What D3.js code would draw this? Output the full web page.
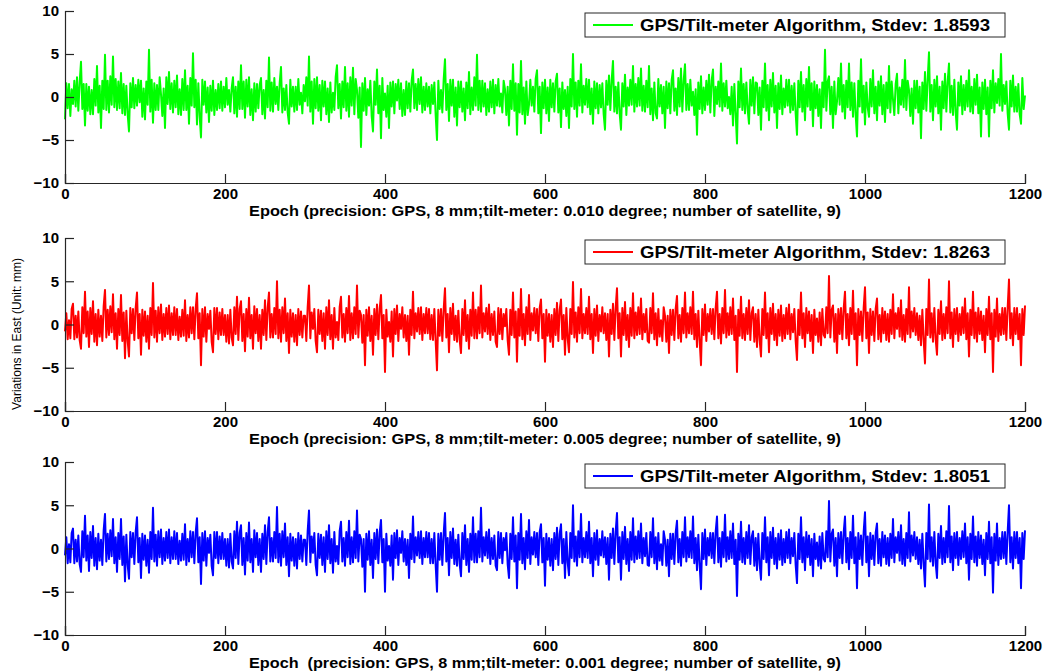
<!DOCTYPE html>
<html>
<head>
<meta charset="utf-8">
<script src="https://cdn.jsdelivr.net/npm/d3@7"></script>
<style>
  html, body { margin: 0; padding: 0; background: #fff; }
  svg { display: block; font-family: "Liberation Sans", Arial, sans-serif; }
</style>
</head>
<body>
<svg id="chart" width="1052" height="672"></svg>
<script>
// Epoch range covered by each series (samples are evenly spread over it)
const epochMax = 1200;

const xTicks = [0, 200, 400, 600, 800, 1000, 1200];
const yTicks = [-10, -5, 0, 5, 10];

const legendLabels = [
  "GPS/Tilt-meter Algorithm, Stdev: 1.8593",
  "GPS/Tilt-meter Algorithm, Stdev: 1.8263",
  "GPS/Tilt-meter Algorithm, Stdev: 1.8051"
];

const xLabels = [
  "Epoch (precision: GPS, 8 mm;tilt-meter: 0.010 degree; number of satellite, 9)",
  "Epoch (precision: GPS, 8 mm;tilt-meter: 0.005 degree; number of satellite, 9)",
  "Epoch  (precision: GPS, 8 mm;tilt-meter: 0.001 degree; number of satellite, 9)"
];

const yLabel = "Variations in East (Unit: mm)";

// East variations (mm), tilt-meter precision 0.010 degree
const eastTilt010 = [
  -2.6,1.6,-1.3, 1.5,-2.2,0.9, -0.8,1.9,-1.1, 2.3,-1.6,1.7, 4.1,-1.4,1.5, -3.3,1.5,-1.6, 1.2,-2.0,0.8, -2.0,2.1,-1.0, 3.6,-1.8,1.3, -3.6,1.9,-1.4,
  4.9,-1.5,1.9, -1.8,2.4,-0.9, 4.7,-1.2,2.1, -1.5,1.8,-1.3, 2.8,-1.9,1.5, -2.1,1.3,-2.0, -4.0,1.6,-1.2, 2.2,-1.3,1.4, -1.0,2.0,-0.6, 1.9,-2.3,1.0,
  -2.6,1.8,-0.9, 5.5,-1.7,2.0, -3.0,1.6,-1.5, 1.4,-1.5,2.3, 0.3,-2.2,1.0, -3.6,2.3,-0.8, 2.9,-1.4,1.6, -1.8,1.9,-1.2, 2.5,-2.0,0.9, -2.1,2.1,-1.5,
  3.1,-1.5,1.3, -3.1,2.2,-1.0, 5.1,-1.2,2.0, -3.2,1.6,-2.2, -4.7,2.0,-0.9, 1.8,-1.8,1.1, -2.9,1.3,-1.6, 1.9,-2.1,0.8, -1.5,1.5,-1.3, 1.8,-1.6,1.2,
  -1.2,2.2,-0.9, 0.8,-1.7,1.0, 2.3,-1.9,1.2, -2.3,1.8,-1.4, 3.7,-1.4,1.8, -2.4,2.0,-1.1, 2.3,-2.1,0.9, -2.7,1.6,-1.7, 1.5,-1.3,1.4, 2.2,-2.0,0.8,
  -2.5,1.9,-1.2, 4.6,-1.6,1.7, -1.7,2.2,-0.8, 1.2,-1.5,1.6, 3.5,-1.8,1.0, -1.5,1.4,-1.8, -3.1,2.0,-1.1, 1.2,-1.7,1.2, -1.5,2.1,-0.9, 0.5,-1.9,1.4,
  -0.5,2.3,-1.0, 4.7,-1.7,1.8, -3.1,2.1,-1.3, 2.3,-1.6,1.4, -2.7,1.9,-1.1, 1.8,-2.0,1.0, -2.9,1.7,-1.8, 0.5,-1.5,2.3, 3.7,-1.3,1.5, -2.5,1.8,-1.2,
  3.5,-1.6,1.6, -2.3,2.3,-1.0, 3.4,-2.0,2.1, 0.8,-2.4,1.1, -5.8,1.6,-1.6, 2.2,-2.1,0.9, -1.0,1.9,-2.2, -4.0,1.8,-0.9, 3.2,-1.9,1.3, -4.8,2.2,-1.5,
  0.4,-2.3,1.3, -3.6,1.7,-1.1, 1.8,-1.9,1.5, -0.4,2.0,-1.4, 1.6,-2.2,0.8, -2.1,1.8,-1.3, 1.6,-1.7,1.9, 3.2,-1.3,1.5, -1.5,2.1,-0.8, 2.3,-1.8,1.2,
  -1.5,1.6,-1.1, 1.2,-1.9,1.4, -0.8,1.7,-2.1, -5.0,1.9,-1.4, 0.8,-1.8,2.0, 4.4,-1.5,1.5, -2.8,2.0,-1.0, 2.0,-2.3,1.1, -3.3,1.8,-1.2, 1.8,-1.7,1.0,
  -2.7,1.7,-1.3, 2.9,-2.0,1.1, -1.5,2.3,-1.0, 4.9,-1.5,1.9, -1.7,1.9,-1.1, 1.6,-2.1,0.9, -1.7,1.8,-1.2, 2.0,-1.9,1.4, -1.0,2.1,-1.1, 0.4,-1.8,1.9,
  0.9,-2.1,1.2, -3.3,1.9,-1.4, 3.8,-1.6,1.6, -4.4,1.5,-1.8, 4.2,-2.0,1.1, -3.1,1.8,-2.1, -0.9,2.0,-1.0, 1.2,-1.7,2.1, 3.1,-1.9,1.2, -4.2,1.7,-1.3,
  2.0,-1.9,1.1, -2.8,2.0,-1.2, 1.6,-1.7,1.8, 2.7,-1.8,1.0, -3.5,1.7,-1.4, 0.8,-2.2,1.2, -3.6,2.1,-1.1, 5.0,-1.4,1.7, -2.3,1.9,-1.0, 3.8,-1.8,1.3,
  -0.9,2.1,-1.2, 2.0,-2.0,1.0, -3.1,1.8,-1.3, 1.6,-1.9,1.4, -1.2,1.6,-2.0, -3.8,1.9,-0.9, 2.5,-1.5,1.9, 4.2,-1.7,1.2, -1.9,1.7,-1.9, -3.8,1.6,-1.1,
  2.6,-2.1,1.1, -1.0,2.0,-0.9, 3.6,-1.7,1.5, -1.1,2.2,-1.0, 3.3,-1.6,1.3, -1.7,1.9,-1.2, 3.6,-2.0,1.0, -2.7,1.7,-1.9, -2.5,2.1,-1.1, 1.4,-1.9,1.2,
  -3.6,1.8,-1.3, 1.6,-1.9,2.0, 3.1,-1.6,1.0, -2.1,2.2,-1.1, 3.3,-1.7,1.9, 3.8,-1.5,1.5, -1.5,2.0,-1.0, 0.6,-2.1,0.9, -4.4,1.7,-1.4, 2.4,-1.9,1.1,
  -1.5,1.9,-0.9, 2.6,-1.8,1.9, 3.2,-2.2,1.2, -0.8,1.8,-1.1, 3.9,-1.6,1.6, -1.1,1.9,-1.3, 0.0,-2.0,1.2, -3.3,1.5,-2.0, -5.4,1.8,-1.2, 3.3,-1.5,1.5,
  -1.9,1.7,-1.4, -3.1,2.0,-1.0, 2.3,-1.9,1.7, 1.6,-2.1,1.1, -3.8,1.9,-1.2, 3.9,-1.6,1.4, -2.7,2.0,-1.1, 2.8,-1.8,1.3, -3.6,1.6,-1.4, 2.5,-2.0,1.0,
  -1.2,2.0,-1.0, 2.0,-1.8,1.3, -1.5,1.6,-1.9, -4.4,1.9,-1.2, 2.9,-1.7,1.4, -2.7,2.1,-1.1, 3.5,-1.5,1.6, -3.4,1.8,-1.3, 1.4,-2.2,0.9, -3.6,1.7,-1.2,
  5.5,-1.6,1.8, 2.4,-2.0,1.2, -3.6,1.8,-2.0, -0.5,2.2,-0.9, 3.9,-1.7,1.4, -2.5,1.9,-1.2, 3.9,-1.5,1.7, -2.3,1.6,-2.1, -4.6,1.9,-1.1, 4.4,-1.8,1.3,
  -3.2,1.7,-1.2, -2.3,2.1,-1.1, 3.1,-1.9,1.2, -2.7,1.8,-1.0, 2.4,-2.0,1.4, -2.9,1.7,-1.3, 3.6,-1.8,1.8, -0.3,-2.1,1.5, 2.7,-1.9,1.1, -0.9,2.0,-1.2,
  4.3,-1.5,1.9, 0.8,-2.2,1.0, -3.1,1.9,-1.3, 1.9,-1.8,1.2, -4.8,1.7,-1.4, 2.9,-1.6,2.0, 5.2,-1.7,1.4, -2.7,2.0,-1.1, 2.4,-1.9,1.2, -3.8,1.8,-1.3,
  2.7,-1.7,1.8, 3.9,-1.8,1.3, -2.1,2.0,-1.8, -3.8,1.7,-1.0, 2.4,-2.0,1.4, -1.5,1.9,-1.1, 3.1,-1.7,1.2, -1.9,2.1,-0.9, 2.6,-1.9,1.1, -4.6,1.7,-1.4,
  2.0,-2.0,1.1, -4.6,1.9,-1.3, 3.1,-1.8,1.6, -0.7,2.1,-1.0, 5.0,-1.6,1.4, -0.8,1.8,-1.9, -3.8,1.9,-1.1, 2.5,-1.7,1.2, -1.7,1.5,-2.0, -3.1,2.2,-1.4,
  0.2
];

// East variations (mm), tilt-meter precision 0.005 degree
const eastTilt005 = [
  -0.8,1.3,-1.7, 0.5,-1.6,1.8, 2.4,-1.7,1.0, -1.5,1.5,-1.8, -2.8,2.0,-1.0, 3.8,-1.4,1.5, -2.6,1.9,-1.1, 2.7,-2.0,1.2, -2.4,1.7,-1.4, 1.0,-1.9,2.1,
  4.0,-1.5,1.7, -1.2,2.1,-0.9, 3.5,-1.7,1.3, -2.8,1.8,-1.2, 3.4,-1.9,1.4, -3.9,1.6,-1.9, -3.7,1.9,-1.0, 1.8,-1.8,1.9, 3.7,-1.6,1.2, -3.5,1.7,-1.3,
  1.5,-2.0,1.0, -2.8,1.9,-1.2, 4.8,-1.5,1.6, -2.0,2.0,-1.0, 2.3,-1.8,1.2, -1.4,1.9,-1.1, 2.2,-1.7,1.3, -1.2,2.0,-1.2, 1.8,-1.8,0.9, -1.4,1.7,-1.3,
  2.8,-1.9,1.1, -1.5,2.0,-1.0, 2.0,-1.7,1.8, 3.6,-1.6,1.3, -4.7,1.8,-1.4, 2.0,-2.0,1.2, -0.5,1.6,-2.0, -3.2,1.9,-1.1, 1.9,-1.7,1.4, -1.2,1.8,-1.2,
  1.1,-2.0,1.1, -2.2,1.7,-1.5, -2.4,2.0,-1.1, 3.2,-1.8,1.8, 2.7,-1.9,1.2, -3.1,1.8,-1.4, 3.1,-1.6,1.1, -2.8,2.1,-1.0, 1.8,-1.9,1.1, -2.8,1.7,-1.2,
  2.8,-1.8,1.9, 3.7,-1.5,1.2, -1.5,1.9,-1.1, 5.0,-1.6,1.7, -2.0,2.0,-1.0, 3.0,-1.9,1.3, -3.3,1.7,-1.4, 1.3,-2.0,1.1, -2.4,1.8,-1.2, 1.5,-1.5,1.0,
  1.0,-1.9,2.0, 4.5,-1.6,1.4, -0.5,1.8,-1.9, -3.2,1.7,-1.1, 1.6,-1.9,1.3, -2.8,2.0,-1.2, 2.8,-1.7,1.1, -2.8,1.9,-1.5, 0.3,-1.8,2.0, 3.2,-1.5,1.2,
  -2.0,1.9,-1.0, 3.3,-1.8,1.3, -1.6,2.0,-1.1, 4.5,-1.5,1.6, 1.1,-2.1,1.1, -4.7,1.7,-1.3, 2.0,-1.9,1.0, -3.5,1.8,-1.2, 2.3,-1.7,1.8, 3.4,-1.6,1.1,
  -5.5,1.7,-1.4, 0.3,-2.0,1.5, -3.7,1.8,-1.1, 2.2,-1.9,1.2, -0.5,2.0,-1.5, 1.1,-1.9,1.0, -3.5,1.7,-1.2, 3.8,-1.6,1.3, -0.8,1.9,-1.1, 2.0,-1.8,1.2,
  -1.0,1.9,-1.0, 1.8,-1.7,1.1, -1.8,1.8,-1.9, -5.3,1.7,-1.3, 1.8,-1.9,1.7, 4.2,-1.5,1.2, -3.2,1.9,-1.1, 2.4,-1.8,1.0, -2.0,1.6,-1.8, -3.3,1.8,-1.2,
  2.8,-1.9,1.1, -2.8,1.7,-1.3, 3.7,-1.6,1.7, -1.6,2.0,-1.0, 4.5,-1.5,1.3, -0.8,1.9,-1.1, 2.3,-1.8,1.2, -1.2,1.5,-2.0, -2.6,1.9,-1.1, 1.8,-1.7,1.2,
  -0.2,1.8,-1.8, -3.5,1.7,-1.2, 3.7,-1.5,1.5, -4.3,1.8,-1.3, 4.1,-1.7,1.2, -2.4,2.0,-1.1, 3.4,-1.8,1.3, -0.7,1.9,-1.0, 1.8,-1.9,1.9, 2.9,-1.6,1.2,
  -4.3,1.7,-1.3, 1.2,-2.0,1.1, -2.6,1.8,-1.2, 2.5,-1.9,1.7, 2.9,-1.7,1.1, -3.5,1.9,-1.6, -3.2,1.8,-1.1, 4.9,-1.5,1.4, -2.0,2.0,-1.0, 4.1,-1.6,1.2,
  -1.0,1.9,-1.1, 3.2,-1.7,1.2, -3.3,1.8,-1.3, 2.2,-1.9,1.1, -0.8,2.0,-1.0, 1.3,-1.8,1.2, -3.7,1.7,-1.1, 2.4,-1.8,1.9, 4.2,-1.6,1.3, -3.7,1.9,-1.2,
  2.6,-1.8,1.1, -2.6,1.9,-1.3, 3.6,-1.6,1.4, -1.2,2.0,-1.1, 3.0,-1.7,1.2, -0.9,1.8,-1.9, -2.1,1.9,-1.0, 3.6,-1.7,1.3, -2.4,1.8,-1.4, 0.5,-1.9,2.0,
  1.0,-2.0,1.0, -3.3,1.7,-1.2, 1.7,-1.8,1.8, 3.3,-1.6,1.1, -2.0,1.9,-1.0, 3.7,-1.5,1.3, -1.0,2.0,-1.1, 3.8,-1.7,1.2, -2.6,1.6,-1.9, -4.7,1.8,-1.2,
  2.3,-1.9,1.2, -0.8,1.8,-1.1, 1.8,-1.7,1.9, 3.8,-1.6,1.2, -2.2,1.9,-1.0, 4.0,-1.5,1.3, -1.2,2.0,-1.1, 3.0,-1.8,1.0, -5.5,1.7,-1.3, 3.2,-1.6,1.2,
  -1.8,1.9,-1.1, 2.8,-1.8,1.3, 2.0,-2.0,1.2, -2.6,1.7,-1.8, -3.7,1.8,-1.2, 3.7,-1.6,1.3, -3.2,1.9,-1.1, 2.4,-1.8,1.2, -2.4,1.7,-1.3, 2.2,-1.9,1.1,
  -1.6,1.9,-1.1, 2.3,-1.7,1.2, -0.9,1.8,-1.9, -4.1,1.7,-1.2, 3.7,-1.6,1.3, -2.6,1.9,-1.0, 1.5,-1.9,1.1, -3.3,1.7,-1.2, 0.7,-2.0,1.4, -2.4,1.8,-1.2,
  -1.5,2.0,-1.0, 5.6,-1.5,1.7, 2.2,-2.0,1.2, -3.3,1.8,-1.1, 1.9,-1.7,1.8, 3.8,-1.6,1.2, -2.4,1.9,-1.1, 3.9,-1.7,1.3, -4.7,1.8,-1.2, 1.5,-1.9,1.9,
  4.3,-1.6,1.4, -3.3,1.8,-1.2, 1.5,-1.9,1.8, 3.0,-1.7,1.1, -2.0,1.9,-1.0, 1.5,-1.8,1.2, -2.0,1.7,-1.1, 3.5,-1.6,1.3, -0.5,1.9,-1.4, 2.8,-1.8,1.1,
  -2.0,1.8,-1.1, 4.3,-1.5,1.5, -0.8,1.9,-1.2, 1.3,-1.8,1.0, -2.4,1.7,-1.8, -4.5,1.8,-1.2, 5.2,-1.5,1.3, -2.0,1.9,-1.7, -3.5,1.7,-1.1, 2.7,-1.8,1.2,
  -1.6,2.0,-1.0, 5.0,-1.6,1.4, -2.6,1.8,-1.1, 1.9,-1.9,1.2, -1.2,2.0,-1.0, 3.0,-1.7,1.3, -3.7,1.7,-1.2, 3.8,-1.6,1.4, -2.0,1.9,-1.1, 1.5,-1.8,1.0,
  -3.2,1.8,-1.2, 3.2,-1.7,1.3, -5.5,1.7,-1.4, 3.0,-1.9,1.2, -1.2,1.9,-1.1, 1.9,-1.8,1.9, 5.2,-1.6,1.3, -2.4,1.9,-1.1, 1.9,-1.7,1.2, -4.7,1.8,-1.2,
  2.2
];

// East variations (mm), tilt-meter precision 0.001 degree
const eastTilt001 = [
  -0.8,1.3,-1.7, 0.5,-1.6,1.8, 2.3,-1.7,1.0, -1.5,1.5,-1.8, -2.7,2.0,-1.0, 3.8,-1.4,1.5, -2.6,1.9,-1.1, 2.6,-2.0,1.2, -2.4,1.7,-1.4, 1.0,-1.9,2.1,
  4.0,-1.5,1.7, -1.2,2.1,-0.9, 3.4,-1.7,1.3, -2.7,1.8,-1.2, 3.4,-1.9,1.4, -3.8,1.6,-1.9, -3.5,1.9,-1.0, 1.8,-1.8,1.9, 3.6,-1.6,1.2, -3.4,1.7,-1.3,
  1.5,-2.0,1.0, -2.8,1.9,-1.2, 4.7,-1.5,1.6, -2.0,2.0,-1.0, 2.2,-1.8,1.2, -1.4,1.9,-1.1, 2.2,-1.7,1.3, -1.2,2.0,-1.2, 1.8,-1.8,0.9, -1.4,1.7,-1.3,
  2.8,-1.9,1.1, -1.5,2.0,-1.0, 1.9,-1.7,1.8, 3.5,-1.6,1.3, -4.1,1.8,-1.4, 2.0,-2.0,1.2, -0.5,1.6,-2.0, -3.1,1.9,-1.1, 1.9,-1.7,1.4, -1.2,1.8,-1.2,
  1.1,-2.0,1.1, -2.2,1.7,-1.5, -2.3,2.0,-1.1, 3.1,-1.8,1.8, 2.7,-1.9,1.2, -3.0,1.8,-1.4, 3.0,-1.6,1.1, -2.7,2.1,-1.0, 1.8,-1.9,1.1, -2.7,1.7,-1.2,
  2.7,-1.8,1.9, 3.6,-1.5,1.2, -1.5,1.9,-1.1, 4.8,-1.6,1.7, -2.0,2.0,-1.0, 2.9,-1.9,1.3, -3.2,1.7,-1.4, 1.3,-2.0,1.1, -2.3,1.8,-1.2, 1.5,-1.5,1.0,
  1.0,-1.9,2.0, 4.4,-1.6,1.4, -0.5,1.8,-1.9, -3.1,1.7,-1.1, 1.6,-1.9,1.3, -2.7,2.0,-1.2, 2.7,-1.7,1.1, -2.8,1.9,-1.5, 0.3,-1.8,2.0, 3.1,-1.5,1.2,
  -2.0,1.9,-1.0, 3.2,-1.8,1.3, -1.6,2.0,-1.1, 4.4,-1.5,1.6, 1.1,-2.1,1.1, -5.0,1.7,-1.3, 2.0,-1.9,1.0, -3.4,1.8,-1.2, 2.2,-1.7,1.8, 3.3,-1.6,1.1,
  -5.0,1.7,-1.4, 0.3,-2.0,1.5, -3.6,1.8,-1.1, 2.1,-1.9,1.2, -0.5,2.0,-1.5, 1.1,-1.9,1.0, -3.4,1.7,-1.2, 3.7,-1.6,1.3, -0.8,1.9,-1.1, 2.0,-1.8,1.2,
  -1.0,1.9,-1.0, 1.8,-1.7,1.1, -1.7,1.8,-1.9, -5.0,1.7,-1.3, 1.8,-1.9,1.7, 4.1,-1.5,1.2, -3.1,1.9,-1.1, 2.3,-1.8,1.0, -2.0,1.6,-1.8, -3.2,1.8,-1.2,
  2.7,-1.9,1.1, -2.7,1.7,-1.3, 3.6,-1.6,1.7, -1.6,2.0,-1.0, 4.7,-1.5,1.3, -0.8,1.9,-1.1, 2.2,-1.8,1.2, -1.2,1.5,-2.0, -2.5,1.9,-1.1, 1.8,-1.7,1.2,
  -0.2,1.8,-1.8, -3.4,1.7,-1.2, 3.6,-1.5,1.5, -4.6,1.8,-1.3, 4.0,-1.7,1.2, -2.4,2.0,-1.1, 3.3,-1.8,1.3, -0.7,1.9,-1.0, 1.8,-1.9,1.9, 2.8,-1.6,1.2,
  -4.3,1.7,-1.3, 1.2,-2.0,1.1, -2.5,1.8,-1.2, 2.4,-1.9,1.7, 2.8,-1.7,1.1, -3.4,1.9,-1.6, -3.1,1.8,-1.1, 5.0,-1.5,1.4, -2.0,2.0,-1.0, 4.0,-1.6,1.2,
  -1.0,1.9,-1.1, 3.1,-1.7,1.2, -3.2,1.8,-1.3, 2.1,-1.9,1.1, -0.8,2.0,-1.0, 1.3,-1.8,1.2, -3.6,1.7,-1.1, 2.3,-1.8,1.9, 4.1,-1.6,1.3, -3.6,1.9,-1.2,
  2.5,-1.8,1.1, -2.6,1.9,-1.3, 3.5,-1.6,1.4, -1.2,2.0,-1.1, 2.9,-1.7,1.2, -0.9,1.8,-1.9, -2.0,1.9,-1.0, 3.5,-1.7,1.3, -2.4,1.8,-1.4, 0.5,-1.9,2.0,
  1.0,-2.0,1.0, -3.2,1.7,-1.2, 1.7,-1.8,1.8, 3.2,-1.6,1.1, -2.0,1.9,-1.0, 3.6,-1.5,1.3, -1.0,2.0,-1.1, 3.7,-1.7,1.2, -2.5,1.6,-1.9, -4.7,1.8,-1.2,
  2.2,-1.9,1.2, -0.8,1.8,-1.1, 1.8,-1.7,1.9, 3.7,-1.6,1.2, -2.1,1.9,-1.0, 3.9,-1.5,1.3, -1.2,2.0,-1.1, 2.9,-1.8,1.0, -5.5,1.7,-1.3, 3.1,-1.6,1.2,
  -1.8,1.9,-1.1, 2.7,-1.8,1.3, 2.0,-2.0,1.2, -2.5,1.7,-1.8, -3.6,1.8,-1.2, 3.6,-1.6,1.3, -3.1,1.9,-1.1, 2.4,-1.8,1.2, -2.3,1.7,-1.3, 2.1,-1.9,1.1,
  -1.6,1.9,-1.1, 2.2,-1.7,1.2, -0.9,1.8,-1.9, -4.0,1.7,-1.2, 3.6,-1.6,1.3, -2.5,1.9,-1.0, 1.5,-1.9,1.1, -3.2,1.7,-1.2, 0.7,-2.0,1.4, -2.3,1.8,-1.2,
  -1.5,2.0,-1.0, 5.5,-1.5,1.7, 2.2,-2.0,1.2, -3.2,1.8,-1.1, 1.9,-1.7,1.8, 3.7,-1.6,1.2, -2.4,1.9,-1.1, 3.8,-1.7,1.3, -4.6,1.8,-1.2, 1.5,-1.9,1.9,
  4.2,-1.6,1.4, -3.2,1.8,-1.2, 1.5,-1.9,1.8, 2.9,-1.7,1.1, -2.0,1.9,-1.0, 1.5,-1.8,1.2, -2.0,1.7,-1.1, 3.4,-1.6,1.3, -0.5,1.9,-1.4, 2.7,-1.8,1.1,
  -2.0,1.8,-1.1, 4.2,-1.5,1.5, -0.8,1.9,-1.2, 1.3,-1.8,1.0, -2.3,1.7,-1.8, -4.4,1.8,-1.2, 5.1,-1.5,1.3, -2.0,1.9,-1.7, -3.4,1.7,-1.1, 2.6,-1.8,1.2,
  -1.6,2.0,-1.0, 4.9,-1.6,1.4, -2.5,1.8,-1.1, 1.9,-1.9,1.2, -1.2,2.0,-1.0, 2.9,-1.7,1.3, -3.6,1.7,-1.2, 3.7,-1.6,1.4, -2.0,1.9,-1.1, 1.5,-1.8,1.0,
  -3.1,1.8,-1.2, 3.1,-1.7,1.3, -5.1,1.7,-1.4, 2.9,-1.9,1.2, -1.2,1.9,-1.1, 1.9,-1.8,1.9, 5.0,-1.6,1.3, -2.3,1.9,-1.1, 1.9,-1.7,1.2, -4.6,1.8,-1.2,
  2.1
];

const seriesList = [eastTilt010, eastTilt005, eastTilt001];
const seriesColors = ["#00ff00", "#ff0000", "#0000ff"];

// ---- layout ----
const svg = d3.select("#chart");
const plotLeft = 65, plotRight = 1025;
const panelTops = [11, 238, 462];
const panelBottoms = [183, 411, 635];

const x = d3.scaleLinear().domain([0, epochMax]).range([plotLeft, plotRight]);

seriesList.forEach((values, p) => {
  const y = d3.scaleLinear().domain([-10, 10]).range([panelBottoms[p], panelTops[p]]);
  const g = svg.append("g");

  const step = epochMax / (values.length - 1);
  const pts = values.map((v, i) => [i * step, v]);
  const line = d3.line().x(d => x(d[0])).y(d => y(d[1]));

  g.append("path")
    .datum(pts)
    .attr("fill", "none")
    .attr("stroke", seriesColors[p])
    .attr("stroke-width", 2)
    .attr("stroke-linejoin", "round")
    .attr("d", line);

  // axes (ticks pointing inward)
  const yAxis = d3.axisLeft(y).tickValues(yTicks).tickSize(-9).tickPadding(6).tickFormat(d3.format("d"));
  const xAxis = d3.axisBottom(x).tickValues(xTicks).tickSize(-9).tickPadding(5).tickFormat(d3.format("d"));

  const ga = g.append("g").attr("transform", `translate(${plotLeft},0)`).call(yAxis);
  const gb = g.append("g").attr("transform", `translate(0,${panelBottoms[p]})`).call(xAxis);

  [ga, gb].forEach(a => {
    a.select(".domain").attr("stroke", "#262626").attr("stroke-width", 1.2);
    a.selectAll(".tick line").attr("stroke", "#262626").attr("stroke-width", 1.2);
    a.selectAll(".tick text")
      .attr("fill", "#000")
      .style("font-size", "15px")
      .style("font-weight", "bold")
      .style("font-family", "'Liberation Sans', Arial, sans-serif");
  });

  // x label
  g.append("text")
    .attr("x", (plotLeft + plotRight) / 2)
    .attr("y", panelBottoms[p] + 33)
    .attr("text-anchor", "middle")
    .attr("textLength", 592)
    .attr("lengthAdjust", "spacingAndGlyphs")
    .style("font-size", "14px")
    .style("font-weight", "bold")
    .style("white-space", "pre")
    .attr("xml:space", "preserve")
    .text(xLabels[p]);

  // legend
  const lx = 585, ly = panelTops[p] + 2, lw = 420, lh = 24;
  const lg = g.append("g");
  lg.append("rect")
    .attr("x", lx).attr("y", ly).attr("width", lw).attr("height", lh)
    .attr("fill", "#fff").attr("stroke", "#262626").attr("stroke-width", 1);
  lg.append("line")
    .attr("x1", lx + 8).attr("x2", lx + 48)
    .attr("y1", ly + lh / 2).attr("y2", ly + lh / 2)
    .attr("stroke", seriesColors[p]).attr("stroke-width", 2);
  lg.append("text")
    .attr("x", lx + 55).attr("y", ly + lh / 2 + 5.5)
    .attr("textLength", 350)
    .attr("lengthAdjust", "spacingAndGlyphs")
    .style("font-size", "16px")
    .style("font-weight", "bold")
    .text(legendLabels[p]);
});

// shared y label
svg.append("text")
  .attr("transform", "translate(21,334) rotate(-90)")
  .attr("text-anchor", "middle")
  .style("font-size", "12px")
  .text(yLabel);
</script>
</body>
</html>
